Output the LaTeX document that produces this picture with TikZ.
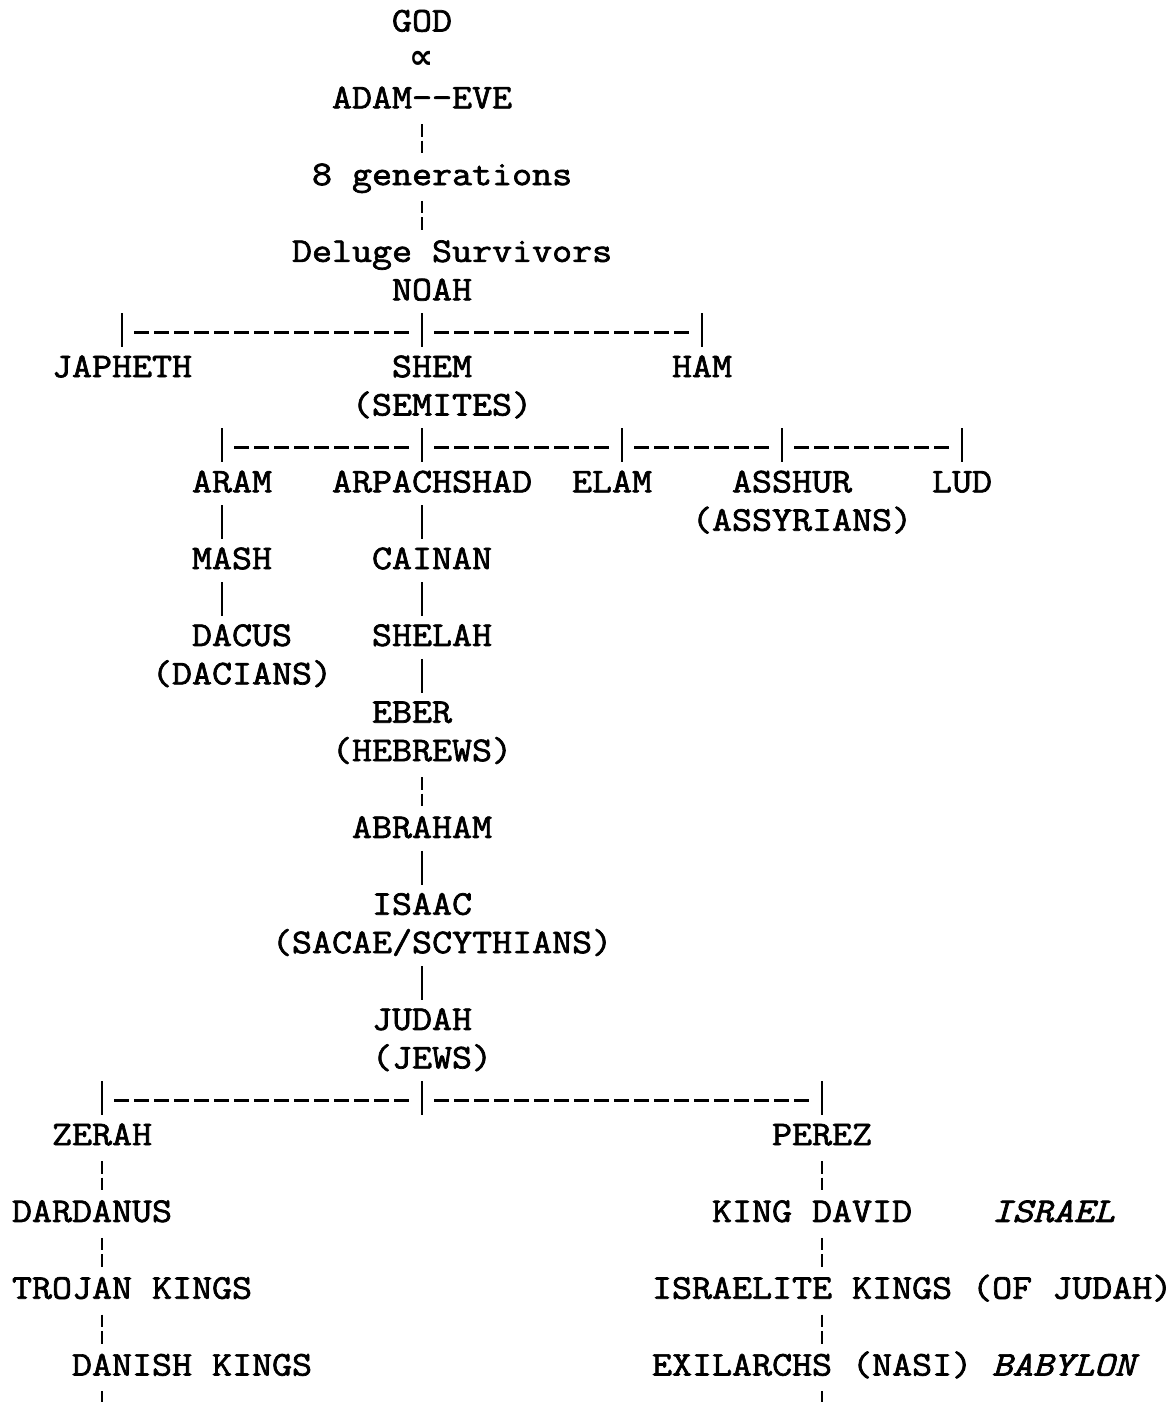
\documentclass[tikz,border=0pt]{standalone}
\usepackage{fontspec}
\setmonofont[FakeStretch=1.122, FakeBold=2]{Latin Modern Mono}
\newfontfamily\symfont{DejaVu Sans}
\usetikzlibrary{calc}

% one character cell = 20pt wide, one text line = 38.4pt high;
% a node at (c,r) starts in column c with its baseline on line r
\tikzset{
  lbl/.style={anchor=base west, inner sep=0pt, outer sep=0pt,
    font=\ttfamily\fontsize{34.63}{38.4}\selectfont},
  ital/.style={lbl, font=\ttfamily\itshape\fontsize{34.63}{38.4}\selectfont},
  bar/.style={line width=2pt},
  brokenbar/.style={line width=2pt, dash pattern=on 12.5pt off 4pt},
  hdash/.style={line width=3pt, dash pattern=on 15pt off 5pt},
}

% solid / broken vertical link in column #1 from node #2 down to node #3
\newcommand\solidlink[3]{\draw[bar] ($(#1+0.5,0 |- #2.base)+(0,0.336)$) -- ($(#1+0.5,0 |- #3.base)+(0,-0.779)$);}
\newcommand\brokenlink[3]{\draw[brokenbar] ($(#1+0.5,0 |- #2.base)+(0,0.414)$) -- ($(#1+0.5,0 |- #3.base)+(0,-0.831)$);}
% dashed branch line between the bars in columns #1 and #2, under node #3
\newcommand\branch[3]{\draw[hdash] ($(#1+1.1,0 |- #3.base)+(0,0.826)$) -- ($(#2-0.15,0 |- #3.base)+(0,0.826)$);}

\begin{document}
\begin{tikzpicture}[x=20pt, y=-38.4pt]
\useasboundingbox[fill=white] (-0.6,-0.8203) rectangle (58.1,35.6901);

% --- texts ---
\node[lbl] (god) at (19,0) {GOD};
\node[inner sep=0pt, font=\symfont\bfseries\fontsize{34}{38}\selectfont] (alpha) at (20.5,0.7526) {∝};
\node[lbl] (adam) at (16,2) {ADAM-\kern0pt-EVE};
\node[lbl] (gen) at (15,4) {8 generations};
\node[lbl] (deluge) at (14,6) {Deluge Survivors};
\node[lbl] (noah) at (19,7) {NOAH};

\node[lbl] (japheth) at (2,9) {JAPHETH};
\node[lbl] (shem) at (19,9) {SHEM};
\node[lbl] (ham) at (33,9) {HAM};
\node[lbl] (semites) at (17,10) {(SEMITES)};

\node[lbl] (aram) at (9,12) {ARAM};
\node[lbl] (arpach) at (16,12) {ARPACHSHAD};
\node[lbl] (elam) at (28,12) {ELAM};
\node[lbl] (asshur) at (36,12) {ASSHUR};
\node[lbl] (lud) at (46,12) {LUD};
\node[lbl] (assyrians) at (34,13) {(ASSYRIANS)};

\node[lbl] (mash) at (9,14) {MASH};
\node[lbl] (cainan) at (18,14) {CAINAN};
\node[lbl] (dacus) at (9,16) {DACUS};
\node[lbl] (shelah) at (18,16) {SHELAH};
\node[lbl] (dacians) at (7,17) {(DACIANS)};
\node[lbl] (eber) at (18,18) {EBER};
\node[lbl] (hebrews) at (16,19) {(HEBREWS)};

\node[lbl] (abraham) at (17,21) {ABRAHAM};
\node[lbl] (isaac) at (18,23) {ISAAC};
\node[lbl] (scythians) at (13,24) {(SACAE/SCYTHIANS)};
\node[lbl] (judah) at (18,26) {JUDAH};
\node[lbl] (jews) at (18,27) {(JEWS)};

\node[lbl] (zerah) at (2,29) {ZERAH};
\node[lbl] (perez) at (38,29) {PEREZ};
\node[lbl] (dardanus) at (0,31) {DARDANUS};
\node[lbl] (david) at (35,31) {KING DAVID};
\node[ital] (israel) at (49,31) {ISRAEL};
\node[lbl] (trojan) at (0,33) {TROJAN KINGS};
\node[lbl] (israelite) at (32,33) {ISRAELITE KINGS (OF JUDAH)};
\node[lbl] (danish) at (3,35) {DANISH KINGS};
\node[lbl] (exilarchs) at (32,35) {EXILARCHS (NASI)};
\node[ital] (babylon) at (49,35) {BABYLON};

\coordinate (edgeL) at (4.5,35.6901);
\coordinate (edgeR) at (40.5,35.6901);

% --- links ---
\brokenlink{20}{adam}{gen}
\brokenlink{20}{gen}{deluge}

\solidlink{5}{noah}{japheth}
\solidlink{20}{noah}{shem}
\solidlink{34}{noah}{ham}
\branch{5}{20}{noah}
\branch{20}{34}{noah}

\solidlink{10}{semites}{aram}
\solidlink{20}{semites}{arpach}
\solidlink{30}{semites}{elam}
\solidlink{38}{semites}{asshur}
\solidlink{47}{semites}{lud}
\branch{10}{20}{semites}
\branch{20}{30}{semites}
\branch{30}{38}{semites}
\branch{38}{47}{semites}

\solidlink{10}{aram}{mash}
\solidlink{10}{mash}{dacus}
\solidlink{20}{arpach}{cainan}
\solidlink{20}{cainan}{shelah}
\solidlink{20}{shelah}{eber}
\brokenlink{20}{hebrews}{abraham}
\solidlink{20}{abraham}{isaac}
\solidlink{20}{scythians}{judah}

\solidlink{4}{jews}{zerah}
\solidlink{20}{jews}{zerah}
\solidlink{40}{jews}{perez}
\branch{4}{20}{jews}
\branch{20}{40}{jews}

\brokenlink{4}{zerah}{dardanus}
\brokenlink{4}{dardanus}{trojan}
\brokenlink{4}{trojan}{danish}
\draw[brokenbar] ($(4.5,0 |- danish.base)+(0,0.414)$) -- (edgeL);
\brokenlink{40}{perez}{david}
\brokenlink{40}{david}{israelite}
\brokenlink{40}{israelite}{exilarchs}
\draw[brokenbar] ($(40.5,0 |- exilarchs.base)+(0,0.414)$) -- (edgeR);
\end{tikzpicture}
\end{document}
